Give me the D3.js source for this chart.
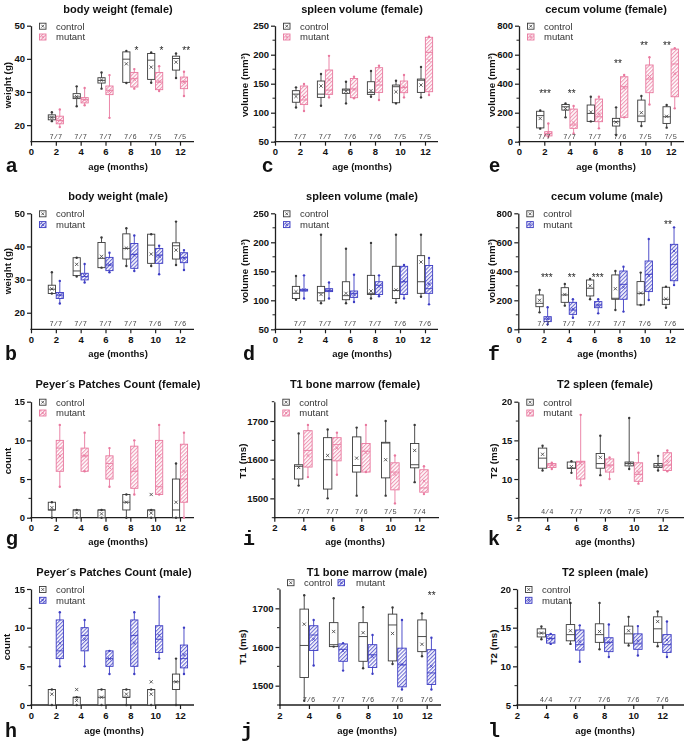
<!DOCTYPE html>
<html><head><meta charset="utf-8">
<script src="https://cdn.jsdelivr.net/npm/d3@7"></script>
<style>body{margin:0;background:#fff}svg{display:block}</style>
</head><body>
<svg id="chart" width="685" height="743"></svg>
<script>
// ---------- DATA: each row = [min, q1, median, q3, max, mean] ----------
const ages = [2, 4, 6, 8, 10, 12];
const agesMRI = [4, 6, 8, 10, 12];
const xTicksAll = [0, 2, 4, 6, 8, 10, 12];
const xTicksMRI = [2, 4, 6, 8, 10, 12];

const bodyWeightFemaleControl = [[21.2,21.6,22.4,23.1,23.9,22.3],[25.7,28.0,28.5,29.5,31.7,28.6],[31.0,32.7,33.5,34.3,35.9,33.6],[32.7,32.9,39.9,42.1,42.4,38.5],[32.8,33.8,39.6,41.6,41.9,37.5],[34.2,36.6,40.1,40.8,41.6,39.0]];
const bodyWeightFemaleMutant  = [[19.4,20.4,21.4,22.7,24.7,21.5],[26.0,26.7,27.7,28.3,31.2,27.6],[22.2,29.2,30.5,31.8,35.1,30.2],[31.0,31.5,34.0,35.9,36.9,33.8],[30.3,30.7,33.0,35.9,37.8,33.2],[28.8,31.0,33.2,34.5,36.1,33.0]];
const bodyWeightMaleControl   = [[25.8,25.8,27.1,28.3,32.2,27.2],[30.9,31.2,32.6,36.6,36.6,34.6],[33.6,33.6,36.4,41.2,42.7,37.0],[34.1,36.2,39.4,43.8,45.5,39.5],[34.1,34.9,40.4,43.7,43.7,37.7],[34.4,36.2,40.2,41.1,47.5,38.9]];
const bodyWeightMaleMutant    = [[22.8,24.3,25.3,26.1,29.6,25.4],[29.1,29.9,30.9,31.9,34.7,31.2],[32.2,32.7,34.4,36.7,38.1,34.5],[32.6,33.4,37.6,40.9,43.3,37.4],[31.6,34.9,37.4,39.4,40.2,37.0],[32.9,35.1,36.6,38.1,38.9,36.5]];

const spleenFemaleControl = [[109,118,132,138,143.7,128],[112,126.4,132,154.6,166.7,146],[116,133.3,139,140.8,153.4,137],[127.6,131.6,135,153.4,171.8,138],[116,117.2,144.8,147.7,155,136],[126.4,135,156,158,179,147.7]];
const spleenFemaleMutant  = [[103,114,122,146,149.4,127],[126.4,131.6,139,173.6,198,157],[124.7,125.9,140.8,159,162,140],[121.8,135,147.7,177.6,181,155],[126.4,134.5,143.7,154.6,165,144],[130.5,136.2,204,230,231,190]];
const spleenMaleControl   = [[101,103,112,124,142,115],[95,99,113,124,213,110],[95,101,108,132,189,112],[103,110,112,143,199,116],[96,103,117,158.6,213,118],[106,112,132,177,213,166]];
const spleenMaleMutant    = [[103,116,117.5,119,143,118],[103,115,117,120,130.6,117],[97,105,112,116,144,110],[107,110,126,132,143,124],[103,110,132,158.6,161,133],[93,112,120,160,173,128]];

const cecumFemaleControl = [[90,95,180,210,215,160],[168,218,241,257,264,228],[140,140,195,253,310,205],[46,108,138,161,237,135],[108,138,177,287,315,200],[97,126,172,241,253,175]];
const cecumFemaleMutant  = [[34,40,57,69,126,60],[57,92,115,225,246,130],[92,138,172,294,310,190],[168,168,379,448,460,370],[257,338,432,529,582,450],[230,310,536,639,644,470]];
const cecumMaleControl   = [[117,156,179,237,271,200],[163,186,237,287,313,240],[207,230,283,340,347,300],[133,207,214,375,402,280],[168,168,248,329,391,250],[149,172,207,290,294,210]];
const cecumMaleMutant    = [[34,53,71,87,152,75],[80,103,133,186,207,140],[110,149,168,191,207,165],[122,207,310,402,432,290],[202,260,379,471,623,370],[305,335,448,586,703,540]];

const peyerFemaleControl = [[0,1,1,2,2,1.3],[0,0,1,1,1,0.6],[0,0,1,1,1,0.5],[0,1,2,3,3,2],[0,0,1,1,1,0.6],[0,0,1,5,7,2]];
const peyerFemaleMutant  = [[4,6,9,10,12,8],[6,6,8,9,11,8],[4,5,7,8,9,6.5],[3,3.8,6,9.25,10,6.3],[3,3,4,10,12,8],[0,2,5,9.5,11,6]];
const peyerMaleControl   = [[0,0,2,2,2,1.4],[0,0,1,1,1,0.6],[0,0,1,2,2,1],[0,1,1,2,2,1.4],[0,0,2,2,2,1.4],[0,2,3,4,6,3]];
const peyerMaleMutant    = [[5,6,7,11,12,8],[5,7,9,10,11,8.5],[4,5,6,7,7,6],[4,5,9,11,12,8],[6,6.8,8.5,10.25,14,9],[4,4.8,6,7.75,10,6.5]];

const t1FemaleControl = [[1533,1550,1583,1587,1668,1580],[1500,1524,1600,1657,1678,1611],[1507,1568,1585,1659,1683,1604],[1507,1553,1643,1645,1700,1600],[1542,1579,1587,1642,1690,1624]];
const t1FemaleMutant  = [[1555,1581,1624,1675,1690,1611],[1561,1597,1639,1657,1670,1630],[1568,1568,1622,1642,1690,1618],[1487,1522,1568,1592,1611,1562],[1511,1516,1527,1574,1583,1545]];
const t1MaleControl   = [[1461,1521,1604,1698,1734,1659],[1601,1601,1606,1663,1726,1640],[1545,1563,1627,1663,1703,1637],[1556,1564,1657,1685,1702,1635],[1576,1588,1627,1670,1687,1607]];
const t1MaleMutant    = [[1552,1591,1631,1655,1670,1620],[1539,1563,1594,1608,1610,1590],[1531,1547,1580,1606,1631,1575],[1490,1497,1554,1597,1670,1555],[1490,1503,1533,1593,1624,1550]];

const t2FemaleControl = [[11.1,11.4,12.7,14.0,14.3,13.2],[10.8,11.4,11.4,12.2,12.3,11.6],[10.5,11.4,12.0,13.3,15.6,12.8],[11.3,11.7,12.0,12.2,17.9,12.0],[11.1,11.5,11.7,12.0,13.0,11.8]];
const t2FemaleMutant  = [[11.3,11.5,11.8,12.0,12.1,11.8],[9.2,10.0,12.2,12.3,18.3,12.0],[10.0,10.9,11.8,12.6,12.8,11.7],[9.4,9.7,10.6,12.1,13.4,10.9],[11.0,11.1,11.8,13.4,13.7,12.3]];
const t2MaleControl   = [[13.5,13.8,14.3,14.85,15.15,14.3],[12.9,13.3,14.1,15.4,18.2,14.6],[12.2,13.1,14.1,15.5,18.2,14.5],[12.7,13.0,14.2,15.2,16.4,14.6],[12.6,13.1,14.85,16.4,17.1,15.8]];
const t2MaleMutant    = [[12.9,13.0,13.6,14.1,14.2,13.6],[10.6,12.1,12.8,14.7,15.3,13.2],[11.2,11.9,13.1,13.7,15.4,13.1],[11.4,12.2,12.9,14.2,15.2,13.3],[11.2,11.8,12.8,14.1,15.8,13.4]];

// outlier points of the control group: [age, value]
const peyerFemaleOutliers = [[10, 3]];
const peyerMaleOutliers = [[4, 2], [10, 3]];

// n labels (control/mutant)
const nBodyWeightFemale = ['7/7','7/7','7/7','7/6','7/5','7/5'];
const nSpleenFemale     = ['7/7','7/7','7/6','7/6','7/5','7/5'];
const nCecumFemale      = ['7/7','7/7','7/7','7/6','7/5','7/5'];
const nMale             = ['7/7','7/7','7/7','7/7','7/6','7/6'];
const nT1Female         = ['7/7','7/7','7/6','7/5','7/4'];
const nT2Female         = ['4/4','7/7','7/6','7/5','7/5'];
const nT1Male           = ['7/6','7/7','7/6','7/6','7/6'];
const nT2Male           = ['4/4','7/7','7/6','7/6','7/6'];

// significance marks: [age, level (data units), label]
const sigBodyWeightFemale = [[8.5,43.3,'*'],[10.5,43.3,'*'],[12.5,43.3,'**']];
const sigCecumFemale = [[2.06,350,'***'],[4.17,350,'**'],[7.83,557,'**'],[9.89,681,'**'],[11.7,681,'**']];
const sigCecumMale = [[2.25,374,'***'],[4.22,374,'**'],[6.28,374,'***'],[11.84,742,'**']];
const sigT1Male = [[12.34,1739,'**']];

// ---------- STYLE / LAYOUT ----------
const PINK = '#e9799f', BLUE = '#3d3dc4', CTRL = '#3a3a3a', AX = '#1e1e1e';
const FONT = '"Liberation Sans", Arial, sans-serif';
const MONO = '"Liberation Mono", "Courier New", monospace';
const rowTop = [25.7, 213.3, 401.7, 589];
const rowBot = [141.7, 329.3, 517.7, 705];
const titleY = [12.5, 199.5, 387.5, 575.5];
const xLabY = [169.5, 357, 545, 733.5];
const yLabY = [85, 271, 461, 647];
const nY = [139.4, 325.7, 514, 702.2];
const letterY = [171.5, 360, 545, 737];

const panels = [
 {L:'a', title:'body weight (female)', ylab:'weight (g)', c:bodyWeightFemaleControl, m:bodyWeightFemaleMutant, ag:ages, col:PINK, yd:[15,50], yt:[20,30,40,50], minor:0, n:nBodyWeightFemale, sig:sigBodyWeightFemale, row:0, ax:31, xmin:0, p12:180, end:194, tx:118, ylx:8, lx:6, sans:true},
 {L:'c', title:'spleen volume (female)', ylab:'volume (mm³)', c:spleenFemaleControl, m:spleenFemaleMutant, ag:ages, col:PINK, yd:[50,250], yt:[50,100,150,200,250], minor:25, n:nSpleenFemale, sig:[], row:0, ax:275, xmin:0, p12:425, end:438, tx:362, ylx:245, lx:262, sans:true},
 {L:'e', title:'cecum volume (female)', ylab:'volume (mm³)', c:cecumFemaleControl, m:cecumFemaleMutant, ag:ages, col:PINK, yd:[0,800], yt:[0,200,400,600,800], minor:100, n:nCecumFemale, sig:sigCecumFemale, row:0, ax:519, xmin:0, p12:670.7, end:684, tx:606, ylx:492, lx:489, sans:true},
 {L:'b', title:'body weight (male)', ylab:'weight (g)', c:bodyWeightMaleControl, m:bodyWeightMaleMutant, ag:ages, col:BLUE, yd:[15,50], yt:[20,30,40,50], minor:0, n:nMale, sig:[], row:1, ax:31, xmin:0, p12:180, end:194, tx:118, ylx:8, lx:5},
 {L:'d', title:'spleen volume (male)', ylab:'volume (mm³)', c:spleenMaleControl, m:spleenMaleMutant, ag:ages, col:BLUE, yd:[50,250], yt:[50,100,150,200,250], minor:25, n:nMale, sig:[], row:1, ax:275, xmin:0, p12:425, end:438, tx:362, ylx:245, lx:243},
 {L:'f', title:'cecum volume (male)', ylab:'volume (mm³)', c:cecumMaleControl, m:cecumMaleMutant, ag:ages, col:BLUE, yd:[0,800], yt:[0,200,400,600,800], minor:100, n:nMale, sig:sigCecumMale, row:1, ax:518.3, xmin:0, p12:670, end:684, tx:607, ylx:492, lx:488},
 {L:'g', title:'Peyer´s Patches Count (female)', ylab:'count', c:peyerFemaleControl, m:peyerFemaleMutant, ag:ages, col:PINK, yd:[0,15], yt:[0,5,10,15], minor:2.5, n:null, sig:[], out:peyerFemaleOutliers, row:2, ax:31, xmin:0, p12:180, end:194, tx:118, ylx:8, lx:6, sans:true},
 {L:'i', title:'T1 bone marrow (female)', ylab:'T1 (ms)', c:t1FemaleControl, m:t1FemaleMutant, ag:agesMRI, col:PINK, yd:[1450,1750], yt:[1500,1600,1700], minor:50, n:nT1Female, sig:[], row:2, ax:274.3, xmin:2, p12:419.3, end:439, tx:355, ylx:243, lx:243},
 {L:'k', title:'T2 spleen (female)', ylab:'T2 (ms)', c:t2FemaleControl, m:t2FemaleMutant, ag:agesMRI, col:PINK, yd:[5,20], yt:[5,10,15,20], minor:2.5, n:nT2Female, sig:[], row:2, ax:518.3, xmin:2, p12:662.7, end:684, tx:605, ylx:494, lx:488},
 {L:'h', title:'Peyer´s Patches Count (male)', ylab:'count', c:peyerMaleControl, m:peyerMaleMutant, ag:ages, col:BLUE, yd:[0,15], yt:[0,5,10,15], minor:2.5, n:null, sig:[], out:peyerMaleOutliers, row:3, ax:31, xmin:0, p12:180, end:194, tx:114, ylx:7, lx:5},
 {L:'j', title:'T1 bone marrow (male)', ylab:'T1 (ms)', c:t1MaleControl, m:t1MaleMutant, ag:agesMRI, col:BLUE, yd:[1450,1750], yt:[1500,1600,1700], minor:50, n:nT1Male, sig:sigT1Male, row:3, ax:279.5, xmin:2, p12:426.7, end:441, tx:367, ylx:243, lx:241, hLegend:true},
 {L:'l', title:'T2 spleen (male)', ylab:'T2 (ms)', c:t2MaleControl, m:t2MaleMutant, ag:agesMRI, col:BLUE, yd:[5,20], yt:[5,10,15,20], minor:2.5, n:nT2Male, sig:[], row:3, ax:517, xmin:2, p12:662.3, end:684, tx:605, ylx:494, lx:488}
];

const svg = d3.select('#chart');
svg.append('rect').attr('width',685).attr('height',743).attr('fill','#fff');
const defs = svg.append('defs');
function addHatch(id, color){
  const s = 2.7;
  const p = defs.append('pattern').attr('id', id).attr('patternUnits','userSpaceOnUse')
    .attr('width', s).attr('height', s).attr('patternTransform','rotate(45)');
  p.append('rect').attr('width', s).attr('height', s).attr('fill','#fff');
  p.append('line').attr('x1',0.6).attr('y1',0).attr('x2',0.6).attr('y2',s)
    .attr('stroke', color).attr('stroke-width',1).attr('stroke-opacity',0.85);
}
addHatch('hatchPink', PINK);
addHatch('hatchBlue', BLUE);

function cross(g, cx, cy, r, color){
  g.append('path').attr('d', `M${cx-r},${cy-r}L${cx+r},${cy+r}M${cx-r},${cy+r}L${cx+r},${cy-r}`)
    .attr('stroke', color).attr('stroke-width', 0.8).attr('fill','none');
}

function drawSeries(g, rows, ag, x, y, off, color, fill){
  const bw = 0.58;
  rows.forEach((d, i) => {
    const [mn, q1, md, q3, mx, mean] = d;
    const x0 = x(ag[i] + off - bw/2), x1 = x(ag[i] + off + bw/2), cx = (x0 + x1) / 2;
    g.append('line').attr('x1',cx).attr('x2',cx).attr('y1',y(mn)).attr('y2',y(mx))
      .attr('stroke', color).attr('stroke-width',0.9);
    g.append('rect').attr('x',x0).attr('width',x1-x0).attr('y',y(q3)).attr('height',Math.max(0.8,y(q1)-y(q3)))
      .attr('fill', fill).attr('stroke', color).attr('stroke-width',0.9);
    g.append('line').attr('x1',x0).attr('x2',x1).attr('y1',y(md)).attr('y2',y(md))
      .attr('stroke', color).attr('stroke-width',0.9);
    [mn, mx].forEach(v => g.append('circle').attr('cx',cx).attr('cy',y(v)).attr('r',1.2).attr('fill', color));
    cross(g, cx, y(mean), 1.6, color);
  });
}

function legendIcon(g, x0, cy, kind, color){
  const w = 6.5, h = 6;
  g.append('rect').attr('x',x0).attr('y',cy-h/2).attr('width',w).attr('height',h)
    .attr('fill', kind==='c' ? '#fff' : (color===PINK?'url(#hatchPink)':'url(#hatchBlue)'))
    .attr('stroke', kind==='c' ? CTRL : color).attr('stroke-width',0.9);
  cross(g, x0+w/2, cy, 1.4, kind==='c' ? CTRL : color);
}

panels.forEach(p => {
  const g = svg.append('g');
  const top = rowTop[p.row], bot = rowBot[p.row];
  const x = d3.scaleLinear().domain([p.xmin, 12]).range([p.ax, p.p12]);
  const y = d3.scaleLinear().domain(p.yd).range([bot, top]);
  const hatch = p.col === PINK ? 'url(#hatchPink)' : 'url(#hatchBlue)';

  // y axis
  const ya = g.append('g').attr('transform',`translate(${p.ax},0)`)
    .call(d3.axisLeft(y).tickValues(p.yt).tickSize(4).tickSizeOuter(0).tickPadding(2).tickFormat(d3.format('d')));
  ya.select('.domain').attr('stroke', AX).attr('stroke-width',1.3);
  ya.selectAll('.tick line').attr('stroke', AX).attr('stroke-width',1.2);
  ya.selectAll('.tick text').attr('font-family',FONT).attr('font-weight','bold').attr('font-size',9.5).attr('fill','#111');
  if (p.minor) {
    d3.range(p.yd[0], p.yd[1] + 1e-6, p.minor).filter(v => !p.yt.includes(v)).forEach(v => {
      g.append('line').attr('x1',p.ax-2.5).attr('x2',p.ax).attr('y1',y(v)).attr('y2',y(v)).attr('stroke',AX).attr('stroke-width',1);
    });
  }
  // x axis
  const xa = g.append('g').attr('transform',`translate(0,${bot})`)
    .call(d3.axisBottom(x).tickValues(p.xmin === 0 ? xTicksAll : xTicksMRI).tickSize(4).tickSizeOuter(0).tickPadding(3));
  xa.select('.domain').remove();
  xa.selectAll('.tick line').attr('stroke', AX).attr('stroke-width',1.2);
  xa.selectAll('.tick text').attr('font-family',FONT).attr('font-weight','bold').attr('font-size',9.5).attr('fill','#111');
  g.append('line').attr('x1',p.ax-0.6).attr('x2',p.end).attr('y1',bot).attr('y2',bot).attr('stroke',AX).attr('stroke-width',1.3);

  // boxes
  drawSeries(g, p.c, p.ag, x, y, -0.32, CTRL, '#fff');
  drawSeries(g, p.m, p.ag, x, y, 0.32, p.col, hatch);
  (p.out || []).forEach(o => cross(g, x(o[0] - 0.32), y(o[1]), 1.6, CTRL));

  // n labels
  if (p.n) p.n.forEach((t, i) => g.append('text').attr('x', x(p.ag[i])).attr('y', nY[p.row])
      .attr('text-anchor','middle').attr('font-family',MONO).attr('font-size',7).attr('fill','#444')
      .attr('opacity',0.99).style('will-change','transform').text(t));
  // significance
  p.sig.forEach(s => g.append('text').attr('x', x(s[0])).attr('y', y(s[1]) + 6)
      .attr('text-anchor','middle').attr('font-family',FONT).attr('font-size',10).attr('fill','#222')
      .attr('opacity',0.99).style('will-change','transform').text(s[2]));

  // titles & labels
  g.append('text').attr('x', p.tx).attr('y', titleY[p.row]).attr('text-anchor','middle')
    .attr('font-family',FONT).attr('font-weight','bold').attr('font-size',11).attr('fill','#111').text(p.title);
  g.append('text').attr('x', p.tx).attr('y', xLabY[p.row]).attr('text-anchor','middle')
    .attr('font-family',FONT).attr('font-weight','bold').attr('font-size',9.5).attr('fill','#111').text('age (months)');
  g.append('text').attr('transform',`translate(${p.ylx + 3.4},${yLabY[p.row]}) rotate(-90)`).attr('text-anchor','middle')
    .attr('font-family',FONT).attr('font-weight','bold').attr('font-size',9.8).attr('fill','#111').text(p.ylab);
  g.append('text').attr('x', p.lx).attr('y', letterY[p.row])
    .attr('font-family', p.sans ? FONT : MONO).attr('font-weight','bold').attr('font-size',20).attr('fill','#111').text(p.L);

  // legend
  const lg = g.append('g').attr('font-family',FONT).attr('font-size',9.5).attr('fill','#333');
  if (p.hLegend) {
    const cy = 582.7;
    legendIcon(lg, 287.5, cy, 'c', p.col);
    lg.append('text').attr('x',304).attr('y',cy+3.3).text('control');
    legendIcon(lg, 338, cy, 'm', p.col);
    lg.append('text').attr('x',356).attr('y',cy+3.3).text('mutant');
  } else {
    const ix = p.ax + 8.5, tx = p.ax + 25;
    legendIcon(lg, ix, top + 0.5, 'c', p.col);
    lg.append('text').attr('x',tx).attr('y',top + 3.8).text('control');
    legendIcon(lg, ix, top + 11.3, 'm', p.col);
    lg.append('text').attr('x',tx).attr('y',top + 14.6).text('mutant');
  }
});
</script>
</body></html>
